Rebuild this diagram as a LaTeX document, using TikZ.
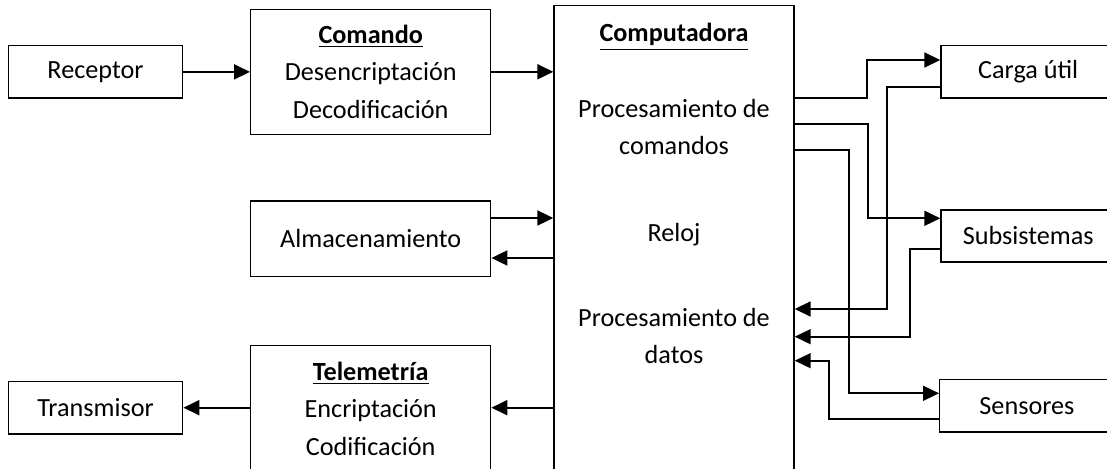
\documentclass[tikz,border=0pt]{standalone}
\usepackage{fontspec}
\setmainfont{Carlito}
\usetikzlibrary{arrows.meta}
\usetikzlibrary{calc}
\usetikzlibrary{positioning}

\tikzset{
  bloque/.style={draw, line width=0.7pt, align=center, inner sep=0pt,
    minimum width=87.2pt, minimum height=26.15pt},
  bloquegrande/.style={bloque, minimum width=120pt},
  texto/.style={align=center, inner sep=0pt},
  flecha/.style={line width=1pt, -{Triangle[length=8pt,width=7.5pt]}},
  enlace/.style={line width=0.85pt, -{Triangle[length=8pt,width=7.5pt]}},
}

\begin{document}
\begin{tikzpicture}[x=0.5pt, y=-0.5pt, font=\fontsize{13.1}{18.75}\selectfont]
    \useasboundingbox (0,0) rectangle (1107,469);

    % left column
    \node[bloque] (receptor) at (95.5,71.9) {Receptor};
    \node[bloque] (transmisor) at (95.5,407.7) {Transmisor};

    % middle column
    \node[bloquegrande, minimum height=62.5pt] (comando) at (370.7,71.8)
        {\underline{\textbf{Comando}}\\Desencriptación\\Decodificación};
    \node[bloquegrande, minimum height=37.85pt] (almacen) at (370.7,238.9) {Almacenamiento};
    \node[bloquegrande, minimum height=67.15pt] (telemetria) at (370.7,412.9) {};
    \node[texto] (telem_texto) at (370.7,408.5)
        {\underline{\textbf{Telemetría}}\\Encriptación\\Codificación};

    % computadora
    \node[bloquegrande, minimum height=237.15pt] (comp) at (674,242.9) {};
    \node[texto, anchor=base] (comp_titulo) at (674,42) {\underline{\textbf{Computadora}}};
    \node[texto] (proc_comandos) at (674,127) {Procesamiento de\\comandos};
    \node[texto, anchor=base] (reloj) at (674,242) {Reloj};
    \node[texto] (proc_datos) at (674,336) {Procesamiento de\\datos};

    % right column
    \node[bloque] (carga) at (1028.2,71.7) {Carga útil};
    \node[bloque] (subsis) at (1028.2,236) {Subsistemas};
    \node[bloque] (sensores) at (1026.9,405.7) {Sensores};

    % left side arrows
    \draw[flecha] (receptor.east) -- (receptor.east -| comando.west);
    \draw[flecha] (comando.east) -- (comando.east -| comp.west);
    \draw[flecha] (almacen.east |- 0,218) -- (comp.west |- 0,218);
    \draw[flecha] (comp.west |- 0,258) -- (almacen.east |- 0,258);
    \draw[flecha] (comp.west |- transmisor.east) -- (telemetria.east |- transmisor.east);
    \draw[flecha] (telemetria.west |- transmisor.east) -- (transmisor.east);

    % right side links
    \draw[enlace] (comp.east |- 0,98) -| (866.7,60) -- (carga.west |- 0,60);
    \draw[enlace] (carga.west |- 0,86.7) -| (887.3,309) -- (comp.east |- 0,309);
    \draw[enlace] (comp.east |- 0,124) -| (868.3,218.3) -- (subsis.west |- 0,218.3);
    \draw[enlace] (comp.east |- 0,150) -| (849.3,393.3) -- (sensores.west |- 0,393.3);
    \draw[enlace] (subsis.west |- 0,249) -| (910,336.7) -- (comp.east |- 0,336.7);
    \draw[enlace] (sensores.west |- 0,419) -| (829.3,360.7) -- (comp.east |- 0,360.7);

\end{tikzpicture}
\end{document}
